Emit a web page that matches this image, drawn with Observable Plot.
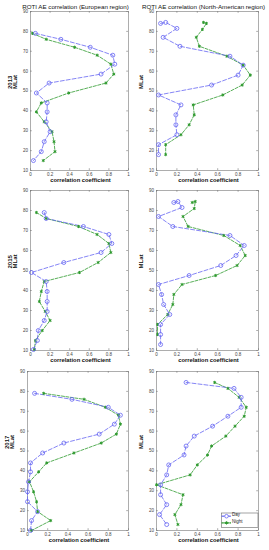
<!DOCTYPE html>
<html><head><meta charset="utf-8">
<script src="https://cdn.jsdelivr.net/npm/d3@7"></script>
<script src="https://cdn.jsdelivr.net/npm/@observablehq/plot@0.6"></script>
<style>
html,body{margin:0;padding:0;background:#fff;}
#c{position:relative;width:269px;height:550px;overflow:hidden;background:#fff;}
</style></head><body><div id="c"></div>
<script>
// ---- data ----
const xTicks = [0, 0.2, 0.4, 0.6, 0.8, 1];
const yTicks = [10, 20, 30, 40, 50, 60, 70, 80, 90];
const regionTitles = ["ROTI AE correlation (European region)", "ROTI AE correlation (North-American region)"];
const years = ["2013", "2015", "2017"];
const seriesNames = ["Day", "Night"];

const eu2013Lat   = [79, 76, 72, 68, 63.5, 58.5, 54, 49, 44, 39.5, 34.5, 29.5, 24.5, 19.5, 15];
const eu2013Day   = [0.05, 0.31, 0.61, 0.84, 0.86, 0.72, 0.19, 0.06, 0.17, 0.17, 0.16, 0.2, 0.14, 0.11, 0.03];
const eu2013Night = [0.02, 0.16, 0.45, 0.68, 0.82, 0.85, 0.77, 0.39, 0.11, 0.06, 0.14, 0.22, 0.24, 0.25, 0.13];

const na2013DayLat   = [84, 84.5, 81.5, 77, 72.5, 67.5, 63, 58, 53, 48, 43, 38, 33, 28, 23, 18];
const na2013Day      = [0.04, 0.09, 0.2, 0.065, 0.23, 0.72, 0.85, 0.8, 0.54, 0.02, 0.24, 0.19, 0.19, 0.2, 0.02, 0.02];
const na2013NightLat = [84.5, 84, 81, 77, 72.5, 67.5, 63, 58, 53, 48, 43, 38, 33, 28, 23, 18];
const na2013Night    = [0.46, 0.49, 0.45, 0.39, 0.42, 0.69, 0.85, 0.92, 0.84, 0.65, 0.36, 0.37, 0.32, 0.24, 0.09, 0.09];

const eu2015Lat   = [79, 76, 72, 68, 63.5, 59, 54, 49, 44.5, 39.5, 34.5, 29.5, 25, 20, 15, 10.5];
const eu2015Day   = [0.14, 0.16, 0.54, 0.8, 0.83, 0.72, 0.34, 0.01, 0.16, 0.17, 0.17, 0.17, 0.14, 0.08, 0.07, 0.03];
const eu2015Night = [0.06, 0.16, 0.49, 0.68, 0.8, 0.82, 0.69, 0.5, 0.14, 0.11, 0.09, 0.15, 0.2, 0.12, 0.05, 0.04];

const na2015DayLat   = [84, 84.5, 81.5, 77, 72, 67.5, 62.5, 57.5, 52.5, 47.5, 43, 38, 33, 28, 23, 18, 13];
const na2015Day      = [0.17, 0.21, 0.25, 0.02, 0.16, 0.72, 0.86, 0.78, 0.63, 0.32, 0.02, 0.05, 0.07, 0.13, 0.04, 0.04, 0.04];
const na2015NightLat = [84, 84.5, 81, 77, 72, 67.5, 62.5, 57.5, 52.5, 47.5, 43, 38, 33, 28, 23, 18];
const na2015Night    = [0.35, 0.38, 0.37, 0.26, 0.31, 0.66, 0.82, 0.87, 0.79, 0.58, 0.25, 0.17, 0.16, 0.11, 0.01, 0.01];

const eu2017Lat   = [79, 76, 72, 68, 63.5, 58.5, 54, 49, 44, 39.5, 34.5, 29.5, 24.5, 19.5, 15, 10];
const eu2017Day   = [0.07, 0.44, 0.8, 0.92, 0.86, 0.71, 0.36, 0.15, 0.03, 0.03, 0.01, 0.0, 0.0, 0.1, 0.04, 0.03];
const eu2017Night = [0.16, 0.56, 0.77, 0.9, 0.92, 0.88, 0.73, 0.46, 0.19, 0.11, 0.02, 0.06, 0.09, 0.1, 0.23, 0.04];

const na2017Lat   = [84.5, 81.5, 77, 72, 67.5, 62.5, 57.5, 52.5, 48, 43, 38, 33, 28, 23, 18, 13];
const na2017Day   = [0.29, 0.76, 0.83, 0.83, 0.7, 0.55, 0.37, 0.29, 0.27, 0.12, 0.1, 0.04, 0.04, 0.1, 0.03, 0.1];
const na2017Night = [0.57, 0.7, 0.81, 0.88, 0.86, 0.77, 0.68, 0.54, 0.5, 0.4, 0.33, 0.0, 0.26, 0.24, 0.18, 0.21];

// ---- style ----
const BLUE = "#6666f2";
const GREEN = "#2f9a2f";
const FONT = "'Liberation Sans', Arial, sans-serif";

const panels = [
  {left: 30, right: 128, top: 11, bottom: 170, title: regionTitles[0], year: years[0],
   dayLat: eu2013Lat, day: eu2013Day, nightLat: eu2013Lat, night: eu2013Night},
  {left: 156, right: 258, top: 11, bottom: 170, title: regionTitles[1],
   dayLat: na2013DayLat, day: na2013Day, nightLat: na2013NightLat, night: na2013Night},
  {left: 30, right: 128, top: 190, bottom: 350, year: years[1],
   dayLat: eu2015Lat, day: eu2015Day, nightLat: eu2015Lat, night: eu2015Night},
  {left: 156, right: 258, top: 190, bottom: 350,
   dayLat: na2015DayLat, day: na2015Day, nightLat: na2015NightLat, night: na2015Night},
  {left: 27, right: 128, top: 371, bottom: 530, year: years[2],
   dayLat: eu2017Lat, day: eu2017Day, nightLat: eu2017Lat, night: eu2017Night},
  {left: 156, right: 258, top: 371, bottom: 530, legend: true,
   dayLat: na2017Lat, day: na2017Day, nightLat: na2017Lat, night: na2017Night}
];

const container = document.getElementById("c");

function makePanel(cfg) {
  const fw = cfg.right - cfg.left, fh = cfg.bottom - cfg.top;
  const mL = 26, mR = 4, mT = 11, mB = 16;
  const day = cfg.dayLat.map((lat, i) => ({lat, r: cfg.day[i]}));
  const night = cfg.nightLat.map((lat, i) => ({lat, r: cfg.night[i]}));
  const tickStroke = "#777";
  const marks = [
    Plot.frame({stroke: "#999", strokeWidth: 0.8}),
    Plot.axisX({ticks: xTicks, tickFormat: d => String(d), tickSize: 0, tickPadding: 2, fontSize: 4.5, fill: "#444", label: null}),
    Plot.axisY({ticks: yTicks, tickFormat: d => String(d), tickSize: 0, tickPadding: 2.5, fontSize: 4.5, fill: "#444", label: null}),
    Plot.tickX(xTicks, {x: d => d, insetTop: fh - 1.8, stroke: tickStroke, strokeWidth: 0.6}),
    Plot.tickX(xTicks, {x: d => d, insetBottom: fh - 1.8, stroke: tickStroke, strokeWidth: 0.6}),
    Plot.tickY(yTicks, {y: d => d, insetRight: fw - 1.8, stroke: tickStroke, strokeWidth: 0.6}),
    Plot.tickY(yTicks, {y: d => d, insetLeft: fw - 1.8, stroke: tickStroke, strokeWidth: 0.6}),
    Plot.line(night, {x: "r", y: "lat", stroke: GREEN, strokeWidth: 0.8, strokeDasharray: "3,1.5"}),
    Plot.line(day, {x: "r", y: "lat", stroke: BLUE, strokeWidth: 0.8, strokeDasharray: "4,2"}),
    Plot.dot(night, {x: "r", y: "lat", symbol: "asterisk", r: 1.5, stroke: GREEN, strokeWidth: 1}),
    Plot.dot(day, {x: "r", y: "lat", r: 2, stroke: BLUE, fill: "none", strokeWidth: 0.8}),
    Plot.text(["correlation coefficient"], {text: d => d, frameAnchor: "bottom", dy: 11.5, dx: 1, fontSize: 5.8, fontWeight: "bold", fill: "#111"}),
    Plot.text(["MLat"], {text: d => d, frameAnchor: "left", dx: -15, dy: -2, rotate: -90, fontSize: 6, fontWeight: "bold", fill: "#111"})
  ];
  if (cfg.title) marks.push(Plot.text([cfg.title], {text: d => d, frameAnchor: "top", dy: -7, dx: -4, fontSize: 6.2, fill: "#111"}));
  if (cfg.year) marks.push(Plot.text([cfg.year], {text: d => d, frameAnchor: "left", dx: -20.5, dy: -2, rotate: -90, fontSize: 6, fontWeight: "bold", fill: "#111"}));
  if (cfg.legend) {
    marks.push(Plot.frame({insetLeft: 65, insetRight: 0.5, insetTop: fh - 17.5, insetBottom: 3, fill: "white", stroke: "#666", strokeWidth: 0.6}));
    const rows = [
      {name: seriesNames[0], dy: -14.3, color: BLUE, dash: "2,1.2"},
      {name: seriesNames[1], dy: -7.6, color: GREEN, dash: "1.6,1.2"}
    ];
    for (const row of rows) {
      marks.push(Plot.vector([row.name], {frameAnchor: "bottom-right", dx: -32, dy: row.dy, length: 9, rotate: 90, anchor: "middle", shape: "spike", r: 0, fill: "none", stroke: row.color, strokeWidth: 0.8, strokeDasharray: row.dash}));
      if (row.name === "Day") marks.push(Plot.dot([row.name], {frameAnchor: "bottom-right", dx: -32, dy: row.dy, r: 1.8, stroke: BLUE, fill: "white", strokeWidth: 0.8}));
      else marks.push(Plot.dot([row.name], {frameAnchor: "bottom-right", dx: -32, dy: row.dy, r: 1.5, symbol: "asterisk", stroke: GREEN, strokeWidth: 1}));
      marks.push(Plot.text([row.name], {text: d => d, frameAnchor: "bottom-right", dx: -26.5, dy: row.dy, textAnchor: "start", fontSize: 4.5, fill: "#222"}));
    }
  }
  const svg = Plot.plot({
    width: fw + mL + mR, height: fh + mT + mB,
    marginLeft: mL, marginRight: mR, marginTop: mT, marginBottom: mB,
    x: {domain: [0, 1]},
    y: {domain: [10, 90]},
    style: {background: "transparent", overflow: "visible", fontFamily: FONT, fontSize: "4.5px"},
    marks
  });
  svg.style.position = "absolute";
  svg.style.left = (cfg.left - mL) + "px";
  svg.style.top = (cfg.top - mT) + "px";
  svg.style.maxWidth = "none";
  container.append(svg);
}

panels.forEach(makePanel);
</script></body></html>
